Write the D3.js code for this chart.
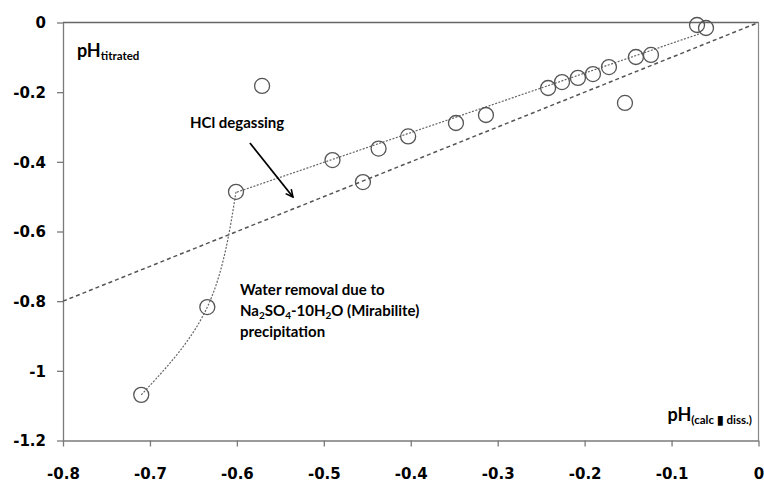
<!DOCTYPE html>
<html>
<head>
<meta charset="utf-8">
<script src="https://cdn.jsdelivr.net/npm/d3@7/dist/d3.min.js"></script>
<style>
  html, body { margin: 0; padding: 0; background: #fff; }
  svg { display: block; }
</style>
</head>
<body>
<svg id="chart" width="764" height="482"></svg>
<script>
// ---- data ----
const xTicks = [-0.8, -0.7, -0.6, -0.5, -0.4, -0.3, -0.2, -0.1, 0];
const yTicks = [0, -0.2, -0.4, -0.6, -0.8, -1, -1.2];
const pointsX = [-0.710, -0.634, -0.601, -0.571, -0.490, -0.455, -0.437, -0.403, -0.348, -0.3135,
                 -0.242, -0.226, -0.2077, -0.1904, -0.172, -0.1536, -0.141, -0.1237, -0.0707, -0.0604];
const pointsY = [-1.069, -0.817, -0.486, -0.182, -0.395, -0.458, -0.362, -0.327, -0.2885, -0.2656,
                 -0.188, -0.171, -0.159, -0.148, -0.128, -0.231, -0.099, -0.093, -0.0072, -0.0158];
const oneToOneX = [-0.8, 0];
const oneToOneY = [-0.8, 0];
const fitX = [-0.6, -0.0685];
const fitY = [-0.487, -0.033];
const curveX = [-0.601, -0.634, -0.710];
const curveY = [-0.486, -0.817, -1.069];
const arrowX = [-0.585, -0.5355];
const arrowY = [-0.346, -0.501];

// ---- layout ----
const svg = d3.select("#chart");
const x = d3.scaleLinear().domain([-0.8, 0]).range([63, 758.5]);
const y = d3.scaleLinear().domain([-1.2, 0]).range([440.5, 22.5]);
const axisColor = "#7a7a7a";
const tickFont = "'DejaVu Sans', Verdana, sans-serif";
const annFont = "Lato, 'Open Sans', sans-serif";
const fmt = d => String(d);

// frame: top and right
svg.append("line").attr("x1", x(-0.8)).attr("x2", x(0)).attr("y1", y(0)).attr("y2", y(0))
  .attr("stroke", "#666").attr("stroke-width", 1.5);
svg.append("line").attr("x1", x(0)).attr("x2", x(0)).attr("y1", y(0)).attr("y2", y(-1.2))
  .attr("stroke", "#888").attr("stroke-width", 1.2);

// axes
const xAxis = svg.append("g").attr("transform", `translate(0,${y(-1.2)})`)
  .call(d3.axisBottom(x).tickValues(xTicks).tickSize(6).tickSizeOuter(0).tickFormat(fmt));
const yAxis = svg.append("g").attr("transform", `translate(${x(-0.8)},0)`)
  .call(d3.axisLeft(y).tickValues(yTicks).tickSize(6).tickSizeOuter(0).tickFormat(fmt));
[xAxis, yAxis].forEach(g => {
  g.select(".domain").attr("stroke", axisColor).attr("stroke-width", 1.3);
  g.selectAll(".tick line").attr("stroke", axisColor).attr("stroke-width", 1.3);
  g.selectAll(".tick text").attr("fill", "#000").attr("font-family", tickFont)
    .attr("font-weight", "bold").attr("font-size", "15px");
});
xAxis.selectAll(".tick text").attr("dy", null).attr("y", 38);
yAxis.selectAll(".tick text").attr("x", -17).attr("dy", "0.36em");

const line = d3.line().x(d => x(d[0])).y(d => y(d[1]));

// 1:1 dashed line
svg.append("path").datum(d3.zip(oneToOneX, oneToOneY)).attr("d", line)
  .attr("fill", "none").attr("stroke", "#555").attr("stroke-width", 1.5).attr("stroke-dasharray", "4,3");

// fit dotted line
svg.append("path").datum(d3.zip(fitX, fitY)).attr("d", line)
  .attr("fill", "none").attr("stroke", "#666").attr("stroke-width", 1.2).attr("stroke-dasharray", "2,1.5");

// curve
svg.append("path").datum(d3.zip(curveX, curveY)).attr("d", line.curve(d3.curveNatural))
  .attr("fill", "none").attr("stroke", "#666").attr("stroke-width", 1.2).attr("stroke-dasharray", "2,1.5");

// points
svg.append("g").selectAll("circle").data(d3.zip(pointsX, pointsY)).join("circle")
  .attr("cx", d => x(d[0])).attr("cy", d => y(d[1])).attr("r", 7.5)
  .attr("fill", "none").attr("stroke", "#555").attr("stroke-width", 1.3);

// arrow
svg.append("defs").append("marker").attr("id", "arr").attr("viewBox", "0 0 10 10")
  .attr("refX", 9).attr("refY", 5).attr("markerWidth", 9).attr("markerHeight", 9)
  .attr("markerUnits", "userSpaceOnUse").attr("orient", "auto")
  .append("path").attr("d", "M1,1 L9,5 L1,9").attr("fill", "none").attr("stroke", "#000").attr("stroke-width", 1.8);
svg.append("line").attr("x1", x(arrowX[0])).attr("y1", y(arrowY[0])).attr("x2", x(arrowX[1])).attr("y2", y(arrowY[1]))
  .attr("stroke", "#000").attr("stroke-width", 1.8).attr("marker-end", "url(#arr)");

// annotations
function ann(xv, yv, size) {
  return svg.append("text").attr("x", x(xv)).attr("y", y(yv)).attr("font-family", annFont)
    .attr("font-weight", "bold").attr("font-size", size + "px").attr("fill", "#000");
}
const t1 = ann(-0.784, -0.099, 18);
t1.append("tspan").text("pH");
t1.append("tspan").attr("font-size", "11.5px").attr("dy", 3).text("titrated");

ann(-0.654, -0.303, 15).text("HCl degassing");

ann(-0.5964, -0.782, 15).text("Water removal due to");
const t3 = ann(-0.5964, -0.842, 15);
t3.append("tspan").text("Na");
t3.append("tspan").attr("font-size", "10px").attr("dy", 3).text("2");
t3.append("tspan").attr("dy", -3).text("SO");
t3.append("tspan").attr("font-size", "10px").attr("dy", 3).text("4");
t3.append("tspan").attr("dy", -3).text("-10H");
t3.append("tspan").attr("font-size", "10px").attr("dy", 3).text("2");
t3.append("tspan").attr("dy", -3).text("O (Mirabilite)");
ann(-0.5964, -0.902, 15).text("precipitation");

const t4 = ann(-0.0075, -1.144, 18).attr("text-anchor", "end");
t4.append("tspan").text("pH");
t4.append("tspan").attr("font-size", "11.5px").attr("dy", 3).text("(calc \u25AE diss.)");
</script>
</body>
</html>
